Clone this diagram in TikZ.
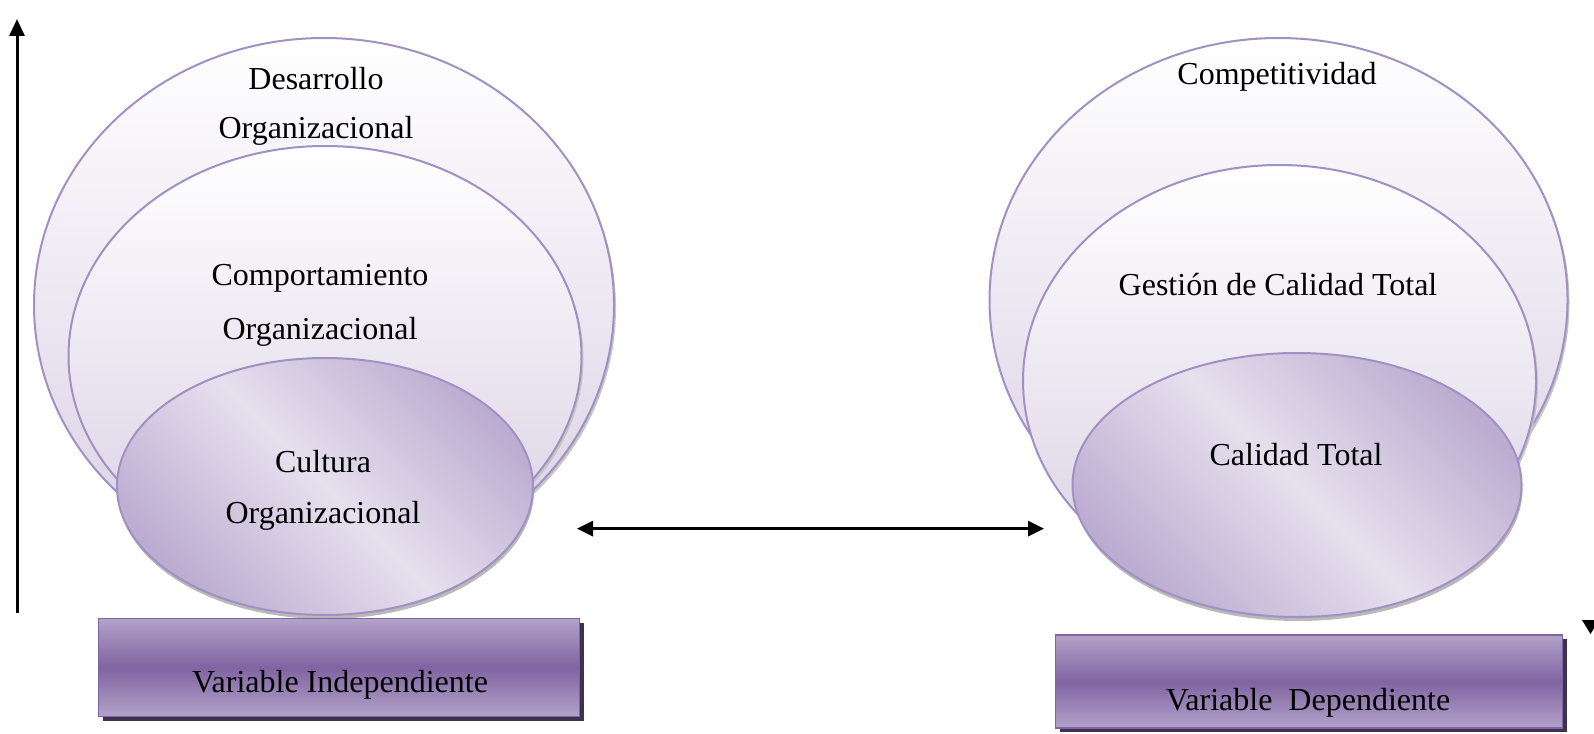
\documentclass[tikz,border=0pt]{standalone}
\usepackage{fontspec}
\setmainfont{Liberation Serif}
\usetikzlibrary{shapes.geometric,arrows.meta,shadows}
\definecolor{lavborder}{HTML}{A190C2}
\definecolor{lavlight}{HTML}{D9D0E4}
\definecolor{lavinner}{HTML}{BCACD1}
\definecolor{lavmid}{HTML}{E6E0EE}
\definecolor{rectdark}{HTML}{8064A2}
\definecolor{rectlight}{HTML}{B3A2C8}
\definecolor{rectshadow}{HTML}{3F3151}
\tikzset{
  bigell/.style={ellipse, inner sep=0pt, draw=lavborder, line width=2pt,
    top color=white, bottom color=lavlight,
    general shadow={shadow xshift=2pt, shadow yshift=-3pt, fill=gray!45}},
  smallell/.style={ellipse, inner sep=0pt, draw=lavborder, line width=2pt,
    shading=axis, top color=lavinner, bottom color=lavinner, middle color=lavmid, shading angle=-45,
    general shadow={shadow xshift=1pt, shadow yshift=-4pt, fill=gray!55}},
  varbox/.style={rectangle, inner sep=0pt, draw=rectdark, line width=1.8pt,
    top color=rectlight, bottom color=rectlight, middle color=rectdark,
    general shadow={shadow xshift=4pt, shadow yshift=-4pt, fill=rectshadow}},
  lbl/.style={align=center, font=\fontsize{32}{49}\selectfont, inner sep=0pt},
  conn/.style={line width=3pt, {Triangle[length=16pt,width=15pt]}-{Triangle[length=16pt,width=15pt]}},
  axisarrow/.style={line width=3pt, -{Triangle[length=17pt,width=15pt]}}
}
\begin{document}
\begin{tikzpicture}[x=1pt,y=-1pt]
\useasboundingbox (0,0) rectangle (1594,733);
% left group
\node[bigell, minimum width=580pt, minimum height=534pt] (desA) at (324,305) {};
\node[bigell, minimum width=513pt, minimum height=420pt] (compA) at (325,356) {};
\node[smallell, minimum width=416pt, minimum height=257pt] (cultA) at (325,486.5) {};
\node[varbox, minimum width=481pt, minimum height=98pt] (vind) at (339,667.5) {};
\node[lbl] (tdes) at (316,106) {Desarrollo\\Organizacional};
\node[lbl] (tcomp) at (320,305) {Comportamiento\\[5pt]Organizacional};
\node[lbl] (tcult) at (323,490) {Cultura\\[2pt]Organizacional};
\node[lbl] (tvind) at (340,685) {Variable Independiente};
% right group
\node[bigell, minimum width=578pt, minimum height=524pt] (compet) at (1278.5,300) {};
\node[bigell, minimum width=513pt, minimum height=432pt] (gest) at (1279.5,381) {};
\node[smallell, minimum width=449pt, minimum height=264pt] (calt) at (1297,485) {};
\node[varbox, minimum width=507pt, minimum height=93pt] (vdep) at (1309,681.5) {};
\node[lbl] (tcompet) at (1277,77) {Competitividad};
\node[lbl] (tgest) at (1278,285) {Gestión de Calidad Total};
\node[lbl] (tcalt) at (1296,455) {Calidad Total};
\node[lbl] (tvdep) at (1308,703) {Variable\ \ Dependiente};
% arrows
\coordinate (axB) at (17,613);
\coordinate (axT) at (17,19);
\draw[axisarrow] (axB) -- (axT);
\coordinate (mL) at (577,528.6);
\coordinate (mR) at (1044,528.6);
\draw[conn] (mL) -- (mR);
\fill (1582,620) -- (1599,620) -- (1590.5,634) -- cycle;
\end{tikzpicture}
\end{document}
